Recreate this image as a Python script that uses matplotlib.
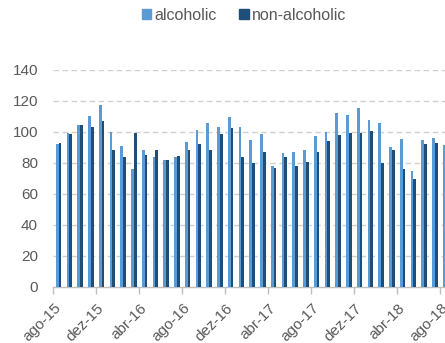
import matplotlib
matplotlib.use("Agg")
import matplotlib.pyplot as plt
from matplotlib.patches import Patch
from matplotlib.transforms import ScaledTranslation
import numpy as np

plt.rcParams['font.family'] = ['Liberation Sans', 'DejaVu Sans']

months = ["ago-15", "set-15", "out-15", "nov-15", "dez-15", "jan-16", "fev-16", "mar-16",
          "abr-16", "mai-16", "jun-16", "jul-16", "ago-16", "set-16", "out-16", "nov-16",
          "dez-16", "jan-17", "fev-17", "mar-17", "abr-17", "mai-17", "jun-17", "jul-17",
          "ago-17", "set-17", "out-17", "nov-17", "dez-17", "jan-18", "fev-18", "mar-18",
          "abr-18", "mai-18", "jun-18", "jul-18", "ago-18"]
alcoholic = [91.7, 99.0, 104.4, 110.0, 117.0, 99.7, 90.6, 76.0,
             88.0, 83.5, 81.4, 83.5, 93.4, 100.8, 105.3, 103.1,
             109.6, 103.1, 94.5, 98.4, 77.5, 85.9, 86.8, 88.3,
             96.9, 99.7, 111.9, 110.6, 115.2, 107.4, 105.7, 90.0,
             95.2, 74.5, 94.3, 95.6, 91.3]
non_alcoholic = [92.8, 98.2, 104.0, 103.0, 107.0, 88.3, 83.8, 99.2,
                 84.6, 87.8, 81.6, 84.0, 88.3, 92.1, 88.0, 98.4,
                 102.0, 83.5, 79.7, 87.0, 76.5, 83.5, 77.5, 80.5,
                 86.8, 93.9, 97.7, 99.0, 99.2, 100.3, 79.7, 88.0,
                 75.6, 69.4, 91.7, 92.6, 91.0]
yticks = [0, 20, 40, 60, 80, 100, 120, 140]

light = "#5B9BD5"
dark = "#1F4E79"
gray = "#595959"

W, H = 445, 343
fig = plt.figure(figsize=(W / 100, H / 100), dpi=100)
left, right = 53.3, 451.0
bottom_px, top_px = 286.5, 69.5
ax = fig.add_axes([left / W, (H - bottom_px) / H, (right - left) / W, (bottom_px - top_px) / H])

x = np.arange(len(months))
w = 0.26
ax.bar(x - w / 2, alcoholic, width=w, color=light, zorder=3)
ax.bar(x + w / 2, non_alcoholic, width=w, color=dark, zorder=3)

ax.set_xlim(-0.5, len(months) - 0.5)
ax.set_ylim(0, 140)
ax.set_yticks(yticks)
ax.set_yticklabels([str(v) for v in yticks], fontsize=11, color=gray)
ax.tick_params(axis='y', length=0, pad=11)
for v in yticks[1:]:
    ax.axhline(v, color="#D0D0D0", lw=1, ls=(0, (4, 2.5)), zorder=1)

label_pos = x[::4]
ax.set_xticks(label_pos)
ax.set_xticklabels([months[i] for i in label_pos], rotation=45, ha='right', va='top',
                   rotation_mode='anchor', fontsize=11, color=gray)
ax.tick_params(axis='x', which='major', length=0, pad=10.5)
shift = ScaledTranslation(-5 / 100, 0, fig.dpi_scale_trans)
for lbl in ax.get_xticklabels():
    lbl.set_transform(lbl.get_transform() + shift)
ax.set_xticks(np.arange(-0.5, len(months), 4), minor=True)
ax.tick_params(axis='x', which='minor', length=5, color="#BFBFBF", width=1)

for s in ['top', 'right', 'left']:
    ax.spines[s].set_visible(False)
ax.spines['bottom'].set_color("#BFBFBF")
ax.spines['bottom'].set_linewidth(1)

handles = [Patch(color=light, label="alcoholic"), Patch(color=dark, label="non-alcoholic")]
fig.legend(handles=handles, loc='center', bbox_to_anchor=(244 / W, 1 - 15 / H), ncol=2,
           frameon=False, fontsize=11.5, labelcolor=gray, handlelength=0.6, handleheight=0.6,
           handletextpad=0.2, columnspacing=1.4)

fig.savefig("out.png", dpi=100)
